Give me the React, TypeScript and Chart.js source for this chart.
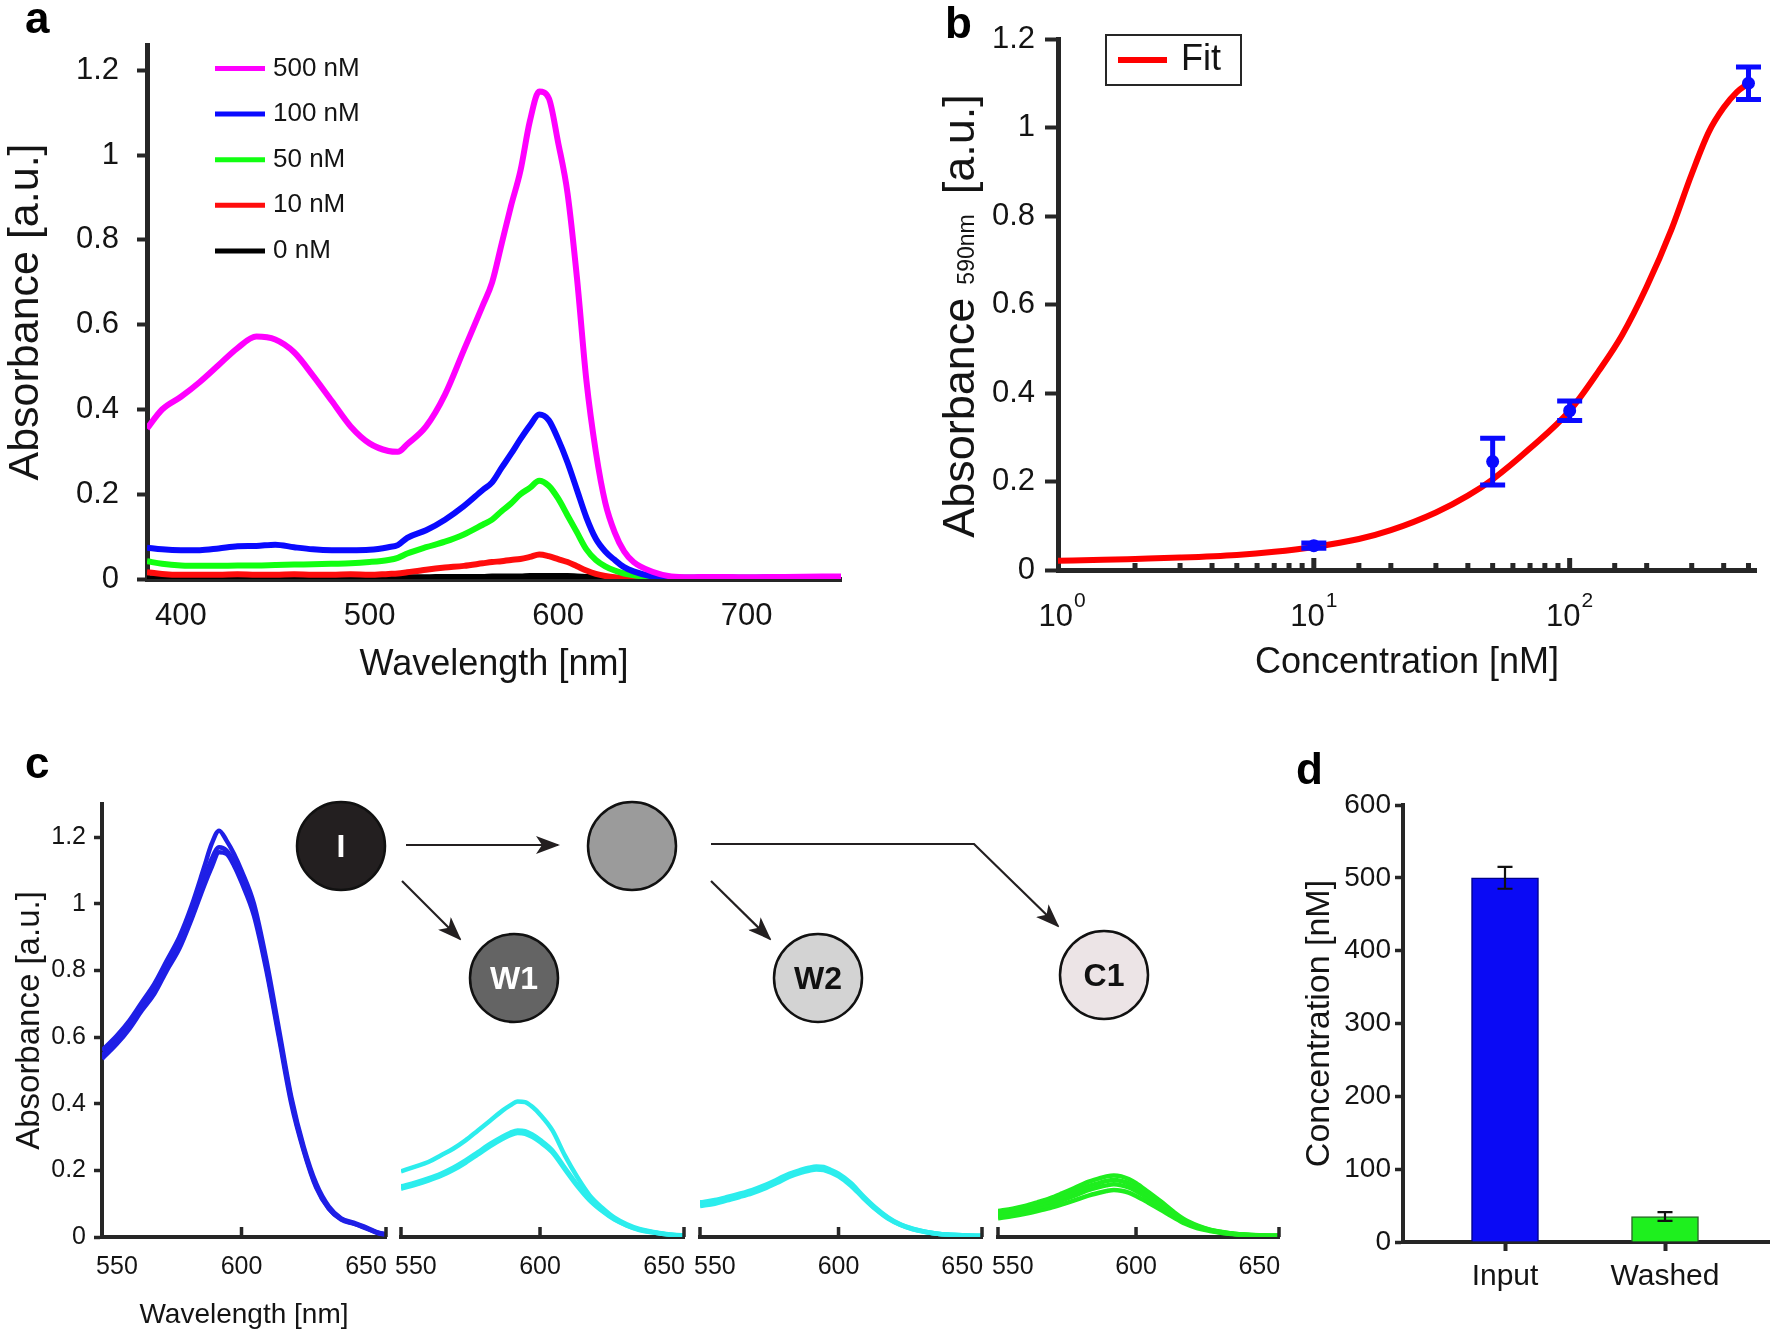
import React, { useEffect, useRef } from 'react';
import { Chart, registerables } from 'chart.js';

Chart.register(...registerables);

const W = 1772;
const H = 1336;
const FONT = '"Liberation Sans", Arial, Helvetica, sans-serif';
const INK = '#141414';
const AXIS = '#262626';
Chart.defaults.font.family = FONT;
Chart.defaults.color = INK;

// ---------------- Panel a : absorbance spectra ----------------
const A_WAVELENGTH = [382, 390, 400, 410, 420, 430, 440, 450, 460, 470, 480, 490, 500, 510, 515, 520, 530, 540, 550, 560, 565, 570, 575, 580, 585, 590, 595, 600, 605, 610, 615, 620, 625, 630, 635, 640, 650, 660, 670, 680, 700, 720, 750];
const A_500 = [0.355, 0.4, 0.43, 0.465, 0.505, 0.545, 0.572, 0.565, 0.535, 0.48, 0.42, 0.36, 0.32, 0.302, 0.3, 0.318, 0.36, 0.435, 0.54, 0.645, 0.7, 0.79, 0.88, 0.963, 1.08, 1.15, 1.135, 1.03, 0.91, 0.71, 0.468, 0.3, 0.18, 0.11, 0.065, 0.04, 0.017, 0.006, 0.004, 0.005, 0.004, 0.005, 0.006];
const A_100 = [0.074, 0.07, 0.068, 0.068, 0.072, 0.077, 0.078, 0.081, 0.075, 0.07, 0.068, 0.068, 0.069, 0.075, 0.08, 0.097, 0.115, 0.14, 0.172, 0.21, 0.228, 0.262, 0.295, 0.33, 0.362, 0.388, 0.375, 0.33, 0.275, 0.21, 0.145, 0.095, 0.065, 0.045, 0.028, 0.018, 0.006, 0.003, 0.003, 0.004, 0.003, 0.004, 0.004];
const A_50 = [0.042, 0.036, 0.032, 0.031, 0.031, 0.032, 0.032, 0.033, 0.034, 0.035, 0.036, 0.037, 0.04, 0.045, 0.05, 0.06, 0.075, 0.088, 0.105, 0.128, 0.14, 0.16, 0.178, 0.2, 0.215, 0.232, 0.22, 0.19, 0.15, 0.11, 0.07, 0.045, 0.03, 0.02, 0.013, 0.009, 0.004, 0.003, 0.003, 0.003, 0.003, 0.003, 0.003];
const A_10 = [0.016, 0.012, 0.01, 0.01, 0.01, 0.011, 0.01, 0.01, 0.011, 0.01, 0.01, 0.011, 0.01, 0.012, 0.013, 0.016, 0.022, 0.027, 0.031, 0.037, 0.04, 0.042, 0.045, 0.047, 0.052, 0.058, 0.054, 0.047, 0.04, 0.03, 0.02, 0.012, 0.007, 0.004, 0.003, 0.002, 0.002, 0.002, 0.002, 0.002, 0.002, 0.002, 0.002];
const A_0 = [0.002, 0.002, 0.002, 0.002, 0.002, 0.002, 0.002, 0.002, 0.002, 0.002, 0.002, 0.002, 0.002, 0.003, 0.003, 0.004, 0.004, 0.005, 0.005, 0.005, 0.006, 0.006, 0.006, 0.006, 0.007, 0.007, 0.007, 0.007, 0.007, 0.006, 0.005, 0.004, 0.003, 0.002, 0.002, 0.002, 0.002, 0.002, 0.002, 0.002, 0.002, 0.002, 0.002];
const A_LABELS = ['500 nM', '100 nM', '50 nM', '10 nM', '0 nM'];
const A_COLORS = ['#ff00ff', '#0a0aff', '#11ff11', '#ff0d0d', '#000000'];

// ---------------- Panel b : calibration ----------------
const B_CONC = [10, 50, 100, 500];
const B_ABS = [0.055, 0.245, 0.36, 1.1];
const B_ERR = [0.006, 0.053, 0.022, 0.037];
const B_FIT_CONC = [1, 1.5, 2, 3, 5, 7, 10, 15, 20, 30, 40, 50, 70, 100, 130, 160, 200, 250, 300, 350, 400, 450, 500];
const B_FIT_ABS = [0.021, 0.023, 0.025, 0.028, 0.034, 0.041, 0.052, 0.07, 0.09, 0.13, 0.168, 0.205, 0.275, 0.36, 0.45, 0.53, 0.64, 0.77, 0.895, 0.99, 1.045, 1.08, 1.1];

// ---------------- Panel c : spectra of fractions ----------------
const C_WAVELENGTH = [544, 550, 555, 560, 565, 570, 575, 580, 585, 588, 591, 594, 597, 600, 605, 610, 615, 620, 625, 630, 635, 640, 645, 650, 655, 658];
const C_INPUT_1 = [0.56, 0.605, 0.65, 0.705, 0.76, 0.83, 0.9, 0.995, 1.11, 1.18, 1.22, 1.19, 1.15, 1.1, 1.0, 0.83, 0.625, 0.42, 0.27, 0.16, 0.092, 0.056, 0.043, 0.029, 0.013, 0.009];
const C_INPUT_2 = [0.545, 0.59, 0.635, 0.69, 0.745, 0.815, 0.88, 0.97, 1.075, 1.135, 1.17, 1.16, 1.125, 1.075, 0.978, 0.81, 0.61, 0.41, 0.262, 0.152, 0.087, 0.054, 0.041, 0.027, 0.012, 0.008];
const C_INPUT_3 = [0.535, 0.58, 0.625, 0.68, 0.73, 0.8, 0.865, 0.955, 1.055, 1.11, 1.155, 1.15, 1.115, 1.065, 0.965, 0.8, 0.6, 0.4, 0.258, 0.148, 0.085, 0.052, 0.04, 0.026, 0.011, 0.007];
const C_W1_1 = [0.197, 0.212, 0.225, 0.245, 0.265, 0.29, 0.32, 0.35, 0.38, 0.395, 0.407, 0.405, 0.39, 0.368, 0.32, 0.245, 0.18, 0.125, 0.088, 0.058, 0.038, 0.024, 0.016, 0.01, 0.006, 0.005];
const C_W1_2 = [0.152, 0.164, 0.176, 0.19, 0.208, 0.23, 0.255, 0.28, 0.302, 0.313, 0.32, 0.318, 0.307, 0.292, 0.26, 0.208, 0.157, 0.113, 0.08, 0.054, 0.035, 0.022, 0.015, 0.009, 0.005, 0.004];
const C_W1_3 = [0.145, 0.157, 0.169, 0.183, 0.201, 0.223, 0.248, 0.273, 0.295, 0.306, 0.312, 0.31, 0.3, 0.285, 0.254, 0.203, 0.153, 0.11, 0.078, 0.052, 0.034, 0.021, 0.014, 0.009, 0.005, 0.004];
const C_W2_1 = [0.104, 0.111, 0.12, 0.13, 0.141, 0.155, 0.172, 0.19, 0.202, 0.208, 0.212, 0.21, 0.201, 0.19, 0.162, 0.123, 0.088, 0.059, 0.038, 0.025, 0.016, 0.01, 0.007, 0.005, 0.004, 0.004];
const C_W2_2 = [0.098, 0.105, 0.115, 0.125, 0.136, 0.15, 0.168, 0.186, 0.198, 0.204, 0.208, 0.206, 0.197, 0.186, 0.158, 0.12, 0.085, 0.057, 0.037, 0.024, 0.016, 0.01, 0.007, 0.005, 0.004, 0.004];
const C_W2_3 = [0.093, 0.1, 0.11, 0.12, 0.131, 0.145, 0.162, 0.18, 0.193, 0.199, 0.203, 0.201, 0.193, 0.182, 0.154, 0.117, 0.083, 0.055, 0.036, 0.023, 0.015, 0.01, 0.007, 0.005, 0.004, 0.003];
const C_C1_1 = [0.078, 0.085, 0.093, 0.104, 0.116, 0.131, 0.147, 0.164, 0.176, 0.182, 0.185, 0.182, 0.174, 0.162, 0.135, 0.107, 0.077, 0.051, 0.034, 0.022, 0.015, 0.01, 0.007, 0.005, 0.004, 0.004];
const C_C1_2 = [0.071, 0.078, 0.086, 0.095, 0.106, 0.12, 0.135, 0.151, 0.162, 0.168, 0.171, 0.168, 0.161, 0.149, 0.125, 0.099, 0.071, 0.048, 0.032, 0.021, 0.014, 0.009, 0.007, 0.005, 0.004, 0.004];
const C_C1_3 = [0.064, 0.071, 0.079, 0.088, 0.098, 0.11, 0.124, 0.139, 0.15, 0.155, 0.158, 0.155, 0.149, 0.138, 0.115, 0.091, 0.066, 0.044, 0.029, 0.02, 0.013, 0.009, 0.006, 0.005, 0.004, 0.004];
const C_C1_4 = [0.056, 0.063, 0.07, 0.078, 0.087, 0.098, 0.11, 0.123, 0.133, 0.138, 0.141, 0.139, 0.133, 0.123, 0.103, 0.082, 0.06, 0.04, 0.026, 0.018, 0.012, 0.008, 0.006, 0.004, 0.004, 0.003];
const C_X_TICK_MARKS = [600];

// ---------------- Panel d : bars ----------------
const D_CATEGORIES = ['Input', 'Washed'];
const D_VALUES = [500, 35];
const D_ERRORS = [15, 6];

// ---------------- helpers ----------------
type Area = { l: number; t: number; r: number; b: number };

const fmt = (v: number) => String(parseFloat(Number(v).toFixed(3)));

function common(a: Area, yW: number, xH: number) {
  return {
    responsive: false,
    maintainAspectRatio: false,
    animation: false as const,
    devicePixelRatio: 1,
    events: [] as any[],
    layout: { padding: { left: a.l - yW, top: a.t, right: W - a.r, bottom: H - a.b - xH } },
    plugins: { legend: { display: false }, tooltip: { enabled: false }, title: { display: false } },
  };
}

function legendPlugin(o: { x0: number; x1: number; tx: number; y0: number; dy: number; size: number; lineW: number; indices: number[]; box?: { x: number; y: number; w: number; h: number } }) {
  return {
    id: 'figLegend',
    afterDraw(chart: any) {
      const ctx = chart.ctx as CanvasRenderingContext2D;
      ctx.save();
      if (o.box) {
        ctx.fillStyle = '#ffffff';
        ctx.fillRect(o.box.x, o.box.y, o.box.w, o.box.h);
        ctx.strokeStyle = AXIS;
        ctx.lineWidth = 2;
        ctx.strokeRect(o.box.x, o.box.y, o.box.w, o.box.h);
      }
      ctx.font = `${o.size}px ${FONT}`;
      ctx.textBaseline = 'middle';
      ctx.textAlign = 'left';
      o.indices.forEach((di, k) => {
        const ds = chart.data.datasets[di];
        const y = o.y0 + k * o.dy;
        ctx.strokeStyle = ds.borderColor;
        ctx.lineWidth = o.lineW;
        ctx.lineCap = 'butt';
        ctx.beginPath();
        ctx.moveTo(o.x0, y);
        ctx.lineTo(o.x1, y);
        ctx.stroke();
        ctx.fillStyle = INK;
        ctx.fillText(ds.label, o.tx, y);
      });
      ctx.restore();
    },
  };
}

function errorBarPlugin(xs: number[], ys: number[], errs: number[], color: string, lineW: number, capW: number) {
  return {
    id: 'errorBars',
    afterDatasetsDraw(chart: any) {
      const { x, y } = chart.scales;
      const ctx = chart.ctx as CanvasRenderingContext2D;
      ctx.save();
      ctx.strokeStyle = color;
      ctx.lineWidth = lineW;
      ctx.lineCap = 'butt';
      xs.forEach((xv, i) => {
        const px = x.getPixelForValue(xv);
        const pt = y.getPixelForValue(ys[i] + errs[i]);
        const pb = y.getPixelForValue(ys[i] - errs[i]);
        ctx.beginPath();
        ctx.moveTo(px, pt);
        ctx.lineTo(px, pb);
        ctx.moveTo(px - capW / 2, pt);
        ctx.lineTo(px + capW / 2, pt);
        ctx.moveTo(px - capW / 2, pb);
        ctx.lineTo(px + capW / 2, pb);
        ctx.stroke();
      });
      ctx.restore();
    },
  };
}

function innerTicksPlugin(pick: (s: any) => { v: number; len: number }[], width: number) {
  return {
    id: 'innerTicks',
    afterDatasetsDraw(chart: any) {
      const s = chart.scales.x;
      const ctx = chart.ctx as CanvasRenderingContext2D;
      const b = chart.chartArea.bottom;
      ctx.save();
      ctx.fillStyle = AXIS;
      pick(s).forEach(({ v, len }) => {
        const px = s.getPixelForValue(v);
        ctx.fillRect(px - width / 2, b - len, width, len);
      });
      ctx.restore();
    },
  };
}

function logLabelsPlugin(maxV: number, base: number, sup: number, baseOff: number, supOff: number) {
  return {
    id: 'logLabels',
    afterDraw(chart: any) {
      const s = chart.scales.x;
      const ctx = chart.ctx as CanvasRenderingContext2D;
      const b = chart.chartArea.bottom;
      ctx.save();
      ctx.fillStyle = INK;
      ctx.textBaseline = 'alphabetic';
      ctx.textAlign = 'left';
      s.ticks.forEach((t: any) => {
        const e = Math.log10(t.value);
        if (t.value > maxV * 1.0001 || Math.abs(e - Math.round(e)) > 1e-9) return;
        const px = s.getPixelForValue(t.value);
        const exp = String(Math.round(e));
        ctx.font = `${base}px ${FONT}`;
        const w1 = ctx.measureText('10').width;
        ctx.font = `${sup}px ${FONT}`;
        const w2 = ctx.measureText(exp).width;
        const left = px - (w1 + w2 + 1) / 2 + (t.value === s.min ? 4 : 0);
        ctx.font = `${base}px ${FONT}`;
        ctx.fillText('10', left, b + baseOff);
        ctx.font = `${sup}px ${FONT}`;
        ctx.fillText(exp, left + w1 + 1, b + supOff);
      });
      ctx.restore();
    },
  };
}

const series = (xs: number[], ys: number[]) => xs.map((x, i) => ({ x, y: ys[i] }));

// ---------------- chart configs ----------------
function configA(): any {
  const area: Area = { l: 147, t: 45, r: 841, b: 579 };
  const yW = 147;
  const xH = 110;
  const all = [A_500, A_100, A_50, A_10, A_0];
  return {
    type: 'line',
    data: {
      datasets: all.map((s, i) => ({
        label: A_LABELS[i],
        data: series(A_WAVELENGTH, s),
        borderColor: A_COLORS[i],
        borderWidth: 6,
        pointRadius: 0,
        cubicInterpolationMode: 'monotone',
      })),
    },
    options: {
      ...common(area, yW, xH),
      scales: {
        x: {
          type: 'linear', min: 382, max: 750,
          afterFit: (s: any) => { s.height = xH; },
          grid: { display: false, drawTicks: false },
          border: { display: true, width: 5, color: AXIS },
          ticks: { stepSize: 100, includeBounds: false, autoSkip: false, maxRotation: 0, padding: 19, font: { size: 31 }, color: INK, callback: fmt },
          title: { display: true, text: 'Wavelength [nm]', font: { size: 36 }, color: INK, padding: { top: 0, bottom: 2 } },
        },
        y: {
          type: 'linear', min: 0, max: 1.26,
          afterFit: (s: any) => { s.width = yW; },
          grid: { drawOnChartArea: false, drawTicks: true, tickLength: 10, tickWidth: 4, tickColor: AXIS },
          border: { display: true, width: 5, color: AXIS },
          ticks: { stepSize: 0.2, includeBounds: false, padding: 18, font: { size: 31 }, color: INK, callback: fmt },
          title: { display: true, text: 'Absorbance [a.u.]', font: { size: 43 }, color: INK, padding: { top: 0, bottom: 0 } },
        },
      },
    },
    plugins: [legendPlugin({ x0: 215, x1: 265, tx: 273, y0: 68.5, dy: 45.6, size: 26, lineW: 5, indices: [0, 1, 2, 3, 4] })],
  };
}

function configB(): any {
  const area: Area = { l: 1058, t: 39, r: 1756, b: 570 };
  const yW = 100;
  const xH = 120;
  return {
    type: 'line',
    data: {
      datasets: [
        {
          label: 'Data',
          data: series(B_CONC, B_ABS),
          showLine: false,
          borderColor: '#0a0aff',
          backgroundColor: '#0a0aff',
          pointRadius: 6.5,
          pointBorderWidth: 0,
          pointBackgroundColor: '#0a0aff',
        },
        {
          label: 'Fit',
          data: series(B_FIT_CONC, B_FIT_ABS),
          borderColor: '#ff0000',
          borderWidth: 6,
          pointRadius: 0,
          cubicInterpolationMode: 'monotone',
        },
      ],
    },
    options: {
      ...common(area, yW, xH),
      scales: {
        x: {
          type: 'logarithmic', min: 1, max: 535,
          afterFit: (s: any) => { s.height = xH; },
          grid: { display: false, drawTicks: false },
          border: { display: true, width: 5, color: AXIS },
          ticks: { display: false },
          title: { display: true, text: 'Concentration [nM]', font: { size: 36 }, color: INK, padding: { top: 0, bottom: 5 } },
        },
        y: {
          type: 'linear', min: 0, max: 1.2,
          afterFit: (s: any) => { s.width = yW; },
          grid: { drawOnChartArea: false, drawTicks: true, tickLength: 13, tickWidth: 4, tickColor: AXIS },
          border: { display: true, width: 5, color: AXIS },
          ticks: { stepSize: 0.2, includeBounds: false, padding: 10, font: { size: 31 }, color: INK, callback: fmt },
        },
      },
    },
    plugins: [
      innerTicksPlugin(
        (s: any) =>
          s.ticks
            .filter((t: any) => t.value > 1.0001 && t.value <= 500.0001)
            .map((t: any) => {
              const e = Math.log10(t.value);
              return { v: t.value, len: Math.abs(e - Math.round(e)) < 1e-9 ? 12 : 7 };
            }),
        5
      ),
      logLabelsPlugin(500, 31, 21, 56, 37),
      errorBarPlugin(B_CONC, B_ABS, B_ERR, '#0a0aff', 5, 25),
      legendPlugin({ x0: 1118, x1: 1167, tx: 1181, y0: 60, dy: 0, size: 36, lineW: 6, indices: [1], box: { x: 1106, y: 35, w: 135, h: 50 } }),
    ],
  };
}

const C_AREAS: Area[] = [
  { l: 102, t: 804, r: 386, b: 1237 },
  { l: 401, t: 804, r: 684, b: 1237 },
  { l: 700, t: 804, r: 982, b: 1237 },
  { l: 998, t: 804, r: 1279, b: 1237 },
];
const C_GROUPS = [
  { data: [C_INPUT_1, C_INPUT_2, C_INPUT_3], color: '#1f1fe6' },
  { data: [C_W1_1, C_W1_2, C_W1_3], color: '#2ceded' },
  { data: [C_W2_1, C_W2_2, C_W2_3], color: '#2ceded' },
  { data: [C_C1_1, C_C1_2, C_C1_3, C_C1_4], color: '#1eee1e' },
];

function configC(k: number): any {
  const area = C_AREAS[k];
  const first = k === 0;
  const yW = first ? 102 : 0;
  const xH = 95;
  const g = C_GROUPS[k];
  return {
    type: 'line',
    data: {
      datasets: g.data.map((s, i) => ({
        label: `c${k}-${i}`,
        data: series(C_WAVELENGTH, s),
        borderColor: g.color,
        borderWidth: 4.5,
        pointRadius: 0,
        cubicInterpolationMode: 'monotone',
      })),
    },
    options: {
      ...common(area, yW, xH),
      scales: {
        x: {
          type: 'linear', min: 544, max: 658,
          afterFit: (s: any) => { s.height = xH; },
          grid: { display: false, drawTicks: false },
          border: { display: true, width: 4, color: AXIS },
          ticks: { stepSize: 50, includeBounds: false, autoSkip: false, maxRotation: 0, padding: 15, font: { size: 25 }, color: INK, callback: fmt },
          title: { display: first, text: 'Wavelength [nm]', font: { size: 28 }, color: INK, padding: { top: 0, bottom: 0 } },
        },
        y: first
          ? {
              type: 'linear', min: 0, max: 1.3,
              afterFit: (s: any) => { s.width = yW; },
              grid: { drawOnChartArea: false, drawTicks: true, tickLength: 8, tickWidth: 3.5, tickColor: AXIS },
              border: { display: true, width: 4, color: AXIS },
              ticks: { stepSize: 0.2, includeBounds: false, padding: 8, font: { size: 25 }, color: INK, callback: fmt },
              title: { display: true, text: 'Absorbance [a.u.]', font: { size: 33 }, color: INK, padding: { top: 10, bottom: 0 } },
            }
          : { type: 'linear', min: 0, max: 1.3, display: false },
      },
    },
    plugins: [
      innerTicksPlugin(
        (s: any) => {
          const list = C_X_TICK_MARKS.map((v) => ({ v, len: 10 }));
          list.push({ v: s.max, len: 10 });
          if (!first) list.push({ v: s.min, len: 10 });
          return list;
        },
        3.5
      ),
    ],
  };
}

function configD(): any {
  const area: Area = { l: 1403, t: 805, r: 1769, b: 1242 };
  const yW = 123;
  const xH = 80;
  return {
    type: 'bar',
    data: {
      datasets: [
        {
          label: 'Concentration',
          data: D_CATEGORIES.map((_c, i) => ({ x: i + 1, y: D_VALUES[i] })),
          backgroundColor: ['#0a0af5', '#1ef01e'],
          borderColor: ['#00008c', '#2a6a2a'],
          borderWidth: 1.5,
          barThickness: 67,
        },
      ],
    },
    options: {
      ...common(area, yW, xH),
      scales: {
        x: {
          type: 'linear', min: 0.3625, max: 2.65, offset: false,
          afterFit: (s: any) => { s.height = xH; },
          afterBuildTicks: (s: any) => { s.ticks = D_CATEGORIES.map((_c, i) => ({ value: i + 1 })); },
          grid: { display: true, offset: false, drawOnChartArea: false, drawTicks: true, tickLength: 9, tickWidth: 4, tickColor: AXIS },
          border: { display: true, width: 4, color: AXIS },
          ticks: { autoSkip: false, maxRotation: 0, padding: 8, font: { size: 30 }, color: INK, callback: (_v: any, i: number) => D_CATEGORIES[i] },
        },
        y: {
          type: 'linear', min: 0, max: 600,
          afterFit: (s: any) => { s.width = yW; },
          grid: { drawOnChartArea: false, drawTicks: true, tickLength: 8, tickWidth: 3.5, tickColor: AXIS },
          border: { display: true, width: 4, color: AXIS },
          ticks: { stepSize: 100, includeBounds: false, padding: 4, font: { size: 28 }, color: INK },
          title: { display: true, text: 'Concentration [nM]', font: { size: 34 }, color: INK, padding: { top: 19.6, bottom: 0 } },
        },
      },
    },
    plugins: [errorBarPlugin(D_CATEGORIES.map((_c, i) => i + 1), D_VALUES, D_ERRORS, '#111111', 2.2, 15)],
  };
}

// ---------------- components ----------------
function Plot({ make }: { make: () => any }) {
  const ref = useRef<HTMLCanvasElement>(null);
  useEffect(() => {
    const chart = new Chart(ref.current as HTMLCanvasElement, make());
    return () => chart.destroy();
  }, []);
  return (
    <canvas
      ref={ref}
      width={W}
      height={H}
      style={{ position: 'absolute', left: 0, top: 0, width: W, height: H }}
    />
  );
}

function Overlay() {
  const ink = '#231f20';
  const fam = 'Liberation Sans, Arial, Helvetica, sans-serif';
  const circles = [
    { cx: 341, cy: 846, fill: '#231f20', text: 'I', tc: '#ffffff' },
    { cx: 632, cy: 846, fill: '#9b9b9b', text: '', tc: '#000' },
    { cx: 514, cy: 978, fill: '#646464', text: 'W1', tc: '#ffffff' },
    { cx: 818, cy: 978, fill: '#d3d3d3', text: 'W2', tc: '#111111' },
    { cx: 1104, cy: 975, fill: '#ece4e6', text: 'C1', tc: '#111111' },
  ];
  return (
    <svg width={W} height={H} style={{ position: 'absolute', left: 0, top: 0 }} fontFamily={fam}>
      <defs>
        <marker id="ah" viewBox="0 0 24 18" markerWidth={24} markerHeight={18} refX={22} refY={9} orient="auto" markerUnits="userSpaceOnUse">
          <path d="M0,0 L24,9 L0,18 L6,9 Z" fill={ink} />
        </marker>
      </defs>
      <text x={25} y={33} fontSize={44} fontWeight="bold" fill="#000">a</text>
      <text x={945} y={38} fontSize={44} fontWeight="bold" fill="#000">b</text>
      <text x={25} y={778} fontSize={44} fontWeight="bold" fill="#000">c</text>
      <text x={1296} y={784} fontSize={44} fontWeight="bold" fill="#000">d</text>

      <text transform="translate(974,316) rotate(-90)" textAnchor="middle" fontSize={45} fill={INK}>
        {'Absorbance'}
        <tspan fontSize={23} dx={13}>590nm</tspan>
        <tspan fontSize={45} dx={20}>{'[a.u.]'}</tspan>
      </text>

      <g stroke={ink} strokeWidth={2.2} fill="none">
        <path d="M406,845 L558,845" markerEnd="url(#ah)" />
        <path d="M402,881 L460,939" markerEnd="url(#ah)" />
        <path d="M711,881 L770,939" markerEnd="url(#ah)" />
        <path d="M711,844 L974,844 L1058,926" markerEnd="url(#ah)" />
      </g>
      {circles.map((c, i) => (
        <g key={i}>
          <circle cx={c.cx} cy={c.cy} r={44} fill={c.fill} stroke="#111" strokeWidth={2.5} />
          {c.text ? (
            <text x={c.cx} y={c.cy} textAnchor="middle" dominantBaseline="central" fontSize={32} fontWeight="bold" fill={c.tc}>
              {c.text}
            </text>
          ) : null}
        </g>
      ))}
    </svg>
  );
}

export default function App() {
  return (
    <div style={{ position: 'absolute', left: 0, top: 0, width: W, height: H, background: '#ffffff', overflow: 'hidden' }}>
      <Plot make={configA} />
      <Plot make={configB} />
      <Plot make={() => configC(0)} />
      <Plot make={() => configC(1)} />
      <Plot make={() => configC(2)} />
      <Plot make={() => configC(3)} />
      <Plot make={configD} />
      <Overlay />
    </div>
  );
}
